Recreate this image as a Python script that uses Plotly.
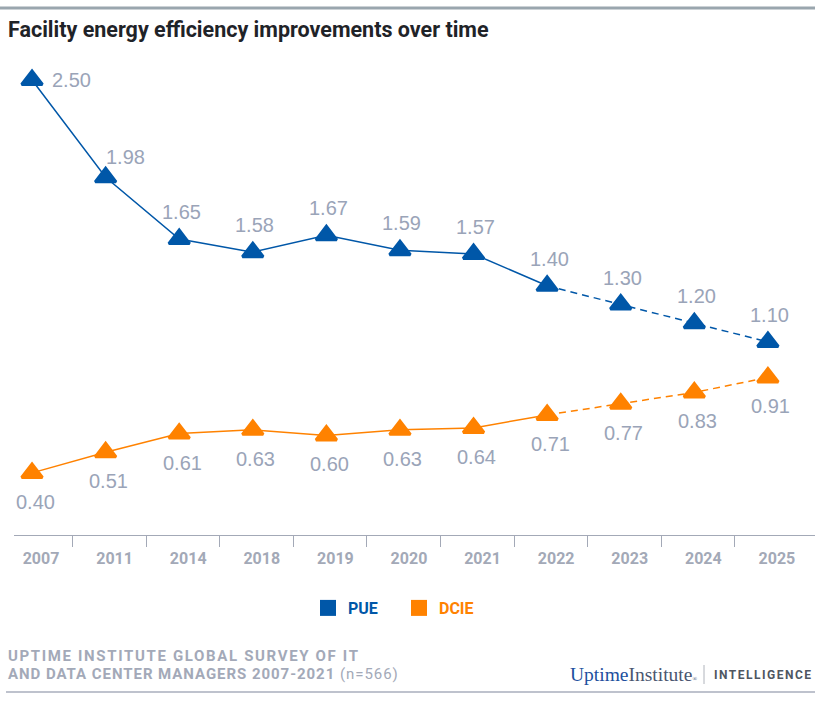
import plotly.graph_objects as go

years = ["2007", "2011", "2014", "2018", "2019", "2020", "2021", "2022", "2023", "2024", "2025"]
pue = [2.50, 1.98, 1.65, 1.58, 1.67, 1.59, 1.57, 1.40, 1.30, 1.20, 1.10]
dcie = [0.40, 0.51, 0.61, 0.63, 0.60, 0.63, 0.64, 0.71, 0.77, 0.83, 0.91]
forecast_start = 7  # index of 2022: dashed from here on

BLUE = "#0057a8"
ORANGE = "#ff8200"
LABEL = "#9aa4b8"
AXIS = "#a3a9b7"

W, H = 815, 712
L, R, T, B = 14, 0, 60, 177
PW, PH = W - L - R, H - T - B

def px_x(px):
    return (px - L) / PW

def px_y(py):
    return (H - B - py) / PH

xs = list(range(len(years)))
fig = go.Figure()

# label offsets (pixels) per point: PUE above (first two special), DCIE below
pue_shift = [(39, 0), (20, 20)] + [(2, 27)] * (len(years) - 2)
dcie_shift = [(3, -29)] * len(years)

for vals, color, name, shifts in [(pue, BLUE, "PUE", pue_shift), (dcie, ORANGE, "DCIE", dcie_shift)]:
    fs = forecast_start
    fig.add_trace(go.Scatter(x=xs[:fs + 1], y=vals[:fs + 1], mode="lines",
                             line=dict(color=color, width=1.5), showlegend=False, hoverinfo="skip"))
    fig.add_trace(go.Scatter(x=xs[fs:], y=vals[fs:], mode="lines",
                             line=dict(color=color, width=1.5, dash="7px,5px"), showlegend=False, hoverinfo="skip"))
    fig.add_trace(go.Scatter(x=xs, y=vals, mode="markers",
                             marker=dict(symbol="triangle-up", size=18, color=color,
                                         line=dict(color=color, width=3)),
                             showlegend=False, hoverinfo="skip"))
    fig.add_trace(go.Scatter(x=[None], y=[None], mode="markers",
                             marker=dict(symbol="square", size=18, color=color),
                             name=f"<span style='color:{color}'><b>{name}</b></span>"))
    for xi, v, (dx, dy) in zip(xs, vals, shifts):
        fig.add_annotation(x=xi, y=v, text=f"{v:.2f}", showarrow=False,
                           xshift=dx, yshift=dy, xanchor="center", yanchor="middle",
                           font=dict(family="Liberation Sans, Arial", size=20, color=LABEL))

fig.update_layout(
    width=W, height=H,
    margin=dict(l=L, r=R, t=T, b=B, autoexpand=False),
    paper_bgcolor="white", plot_bgcolor="white",
    title=dict(text="Facility energy efficiency improvements over time",
               x=8 / W, xanchor="left", y=1 - 29 / H, yanchor="middle",
               xref="container", yref="container",
               font=dict(family="Roboto", size=21.5, color="#1f2328", weight="bold")),
    xaxis=dict(range=[-0.245, 10.64], tickvals=xs, ticktext=years, ticks="",
               showgrid=False, zeroline=False, showline=True, linecolor=AXIS, linewidth=1,
               tickfont=dict(family="Roboto", size=16, color=AXIS, weight="bold"),
               ticklabelshift=9, ticklabelstandoff=9,
               minor=dict(tickvals=[i + 0.55 for i in xs[:-1]], ticks="outside",
                          ticklen=11, tickcolor=AXIS, tickwidth=1, showgrid=False)),
    yaxis=dict(range=[0.068, 2.607], visible=False),
    legend=dict(orientation="h", x=px_x(399), xanchor="center", y=px_y(608), yanchor="middle",
                font=dict(family="Roboto", size=16), itemwidth=30, entrywidth=46),
    showlegend=True,
)

fig.add_shape(type="line", xref="paper", yref="paper", x0=px_x(0), x1=px_x(W), y0=px_y(8), y1=px_y(8),
              line=dict(color="#9aa6ae", width=3))
fig.add_shape(type="line", xref="paper", yref="paper", x0=px_x(6), x1=px_x(W), y0=px_y(692), y1=px_y(692),
              line=dict(color="#a8aebd", width=1.5))
fig.add_shape(type="line", xref="paper", yref="paper", x0=px_x(704), x1=px_x(704), y0=px_y(665), y1=px_y(684),
              line=dict(color="#b0b4bc", width=1))

fig.add_annotation(xref="paper", yref="paper", x=px_x(6), y=px_y(656), xanchor="left", yanchor="middle",
                   showarrow=False, align="left",
                   text="<span style='letter-spacing:1.65px'>UPTIME INSTITUTE GLOBAL SURVEY OF IT</span>",
                   font=dict(family="Roboto", size=15, color="#a3a9b8", weight="bold"))
fig.add_annotation(xref="paper", yref="paper", x=px_x(6), y=px_y(674), xanchor="left", yanchor="middle",
                   showarrow=False, align="left",
                   text="<span style='letter-spacing:0.95px'><b>AND DATA CENTER MANAGERS 2007-2021</b> (n=566)</span>",
                   font=dict(family="Roboto", size=15, color="#a3a9b8"))
fig.add_annotation(xref="paper", yref="paper", x=px_x(568), y=px_y(674), xanchor="left", yanchor="middle",
                   showarrow=False,
                   text="<span style='color:#1d4f9e'>Uptime</span><span style='color:#4a5670'>Institute</span><span style='font-size:6px'>®</span>",
                   font=dict(family="Liberation Serif", size=19.5))
fig.add_annotation(xref="paper", yref="paper", x=px_x(814), y=px_y(675), xanchor="right", yanchor="middle",
                   showarrow=False,
                   text="<span style='letter-spacing:1.5px'><b>INTELLIGENCE</b></span>",
                   font=dict(family="Roboto", size=12, color="#4f5661"))

fig.write_html("out.html")
